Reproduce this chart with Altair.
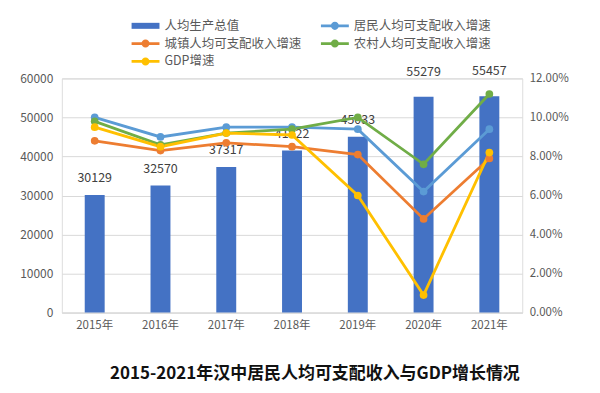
import altair as alt
import pandas as pd

years = ["2015年", "2016年", "2017年", "2018年", "2019年", "2020年", "2021年"]
gdp_pc = [30129, 32570, 37317, 41522, 45033, 55279, 55457]
resident = [10.0, 9.0, 9.5, 9.5, 9.4, 6.2, 9.4]
urban = [8.8, 8.3, 8.7, 8.5, 8.1, 4.8, 7.9]
rural = [9.8, 8.6, 9.2, 9.4, 10.0, 7.6, 11.2]
gdp_growth = [9.5, 8.5, 9.2, 9.1, 6.0, 0.9, 8.2]

series_names = ["人均生产总值", "居民人均可支配收入增速", "城镇人均可支配收入增速",
                "农村人均可支配收入增速", "GDP增速"]
series_colors = ["#4472C4", "#5B9BD5", "#ED7D31", "#70AD47", "#FFC000"]

left_ticks = [0, 10000, 20000, 30000, 40000, 50000, 60000]
right_ticks = [0, 0.02, 0.04, 0.06, 0.08, 0.10, 0.12]

FONT = "Noto Sans CJK SC"

bar_df = pd.DataFrame({"year": years, "value": gdp_pc, "series": series_names[0]})
line_rows = []
for name, vals in zip(series_names[1:], [resident, urban, rural, gdp_growth]):
    for y, v in zip(years, vals):
        line_rows.append({"year": y, "series": name, "rate": v / 100.0,
                          "order": series_names.index(name)})
line_df = pd.DataFrame(line_rows)

color_scale = alt.Scale(domain=series_names, range=series_colors)

bar_shape = "M-2,-0.43H2V0.43H-2Z"
line_shape = ("M-2,-0.2H2V0.2H-2Z"
              "M0.58,0A0.58,0.58,0,1,1,-0.58,0A0.58,0.58,0,1,1,0.58,0Z")
shape_scale = alt.Scale(domain=series_names,
                        range=[bar_shape, line_shape, line_shape, line_shape, line_shape])

legend = alt.Legend(
    title=None, orient="none", legendX=77, legendY=-60, columns=2, direction="horizontal",
    columnPadding=19, rowPadding=4, symbolSize=196, labelOffset=12,
    labelFontSize=12.5, labelColor="#595959", labelFont=FONT,
    symbolOpacity=1, symbolStrokeWidth=0, symbolType=line_shape,
)

x_enc = alt.X("year:N", sort=years, title=None,
              scale=alt.Scale(paddingInner=0, paddingOuter=0),
              axis=alt.Axis(labelAngle=0, labelColor="#595959", labelFontSize=11.5,
                            labelFont=FONT, ticks=False, domainColor="#d9d9d9",
                            labelPadding=7, grid=False))

y_val = alt.Y("value:Q", title=None,
              scale=alt.Scale(domain=[0, 60000]),
              axis=alt.Axis(values=left_ticks, tickCount=len(left_ticks),
                            format="d", labelOverlap=False,
                            grid=True, gridColor="#d9d9d9", domain=False, ticks=False,
                            labelColor="#595959", labelFontSize=12, labelFont=FONT,
                            labelPadding=9))

color_enc = alt.Color("series:N", scale=color_scale, legend=legend)

bars = alt.Chart(bar_df).mark_bar(size=20).encode(
    x=x_enc,
    y=y_val,
    color=color_enc,
)

labels_low = alt.Chart(bar_df).transform_filter(alt.datum.value <= 50000).mark_text(
    baseline="bottom", dy=-10, fontSize=12.5, color="#404040", font=FONT).encode(
    x=x_enc,
    y=y_val,
    text=alt.Text("value:Q", format="d"),
)
labels_high = alt.Chart(bar_df).transform_filter(alt.datum.value > 50000).mark_text(
    baseline="bottom", dy=-18, fontSize=12.5, color="#404040", font=FONT).encode(
    x=x_enc,
    y=y_val,
    text=alt.Text("value:Q", format="d"),
)

left = alt.layer(bars, labels_low, labels_high)

y_rate = alt.Y("rate:Q", title=None,
               scale=alt.Scale(domain=[0, 0.12]),
               axis=alt.Axis(orient="right", values=right_ticks, tickCount=len(right_ticks),
                             labelOverlap=False,
                             format=".2%", grid=False, domain=False, ticks=False,
                             labelColor="#595959", labelFontSize=11.5, labelFont=FONT,
                             labelPadding=7))

lines = alt.Chart(line_df).mark_line(
    strokeWidth=2.8,
    point=alt.OverlayMarkDef(filled=True, size=60),
).encode(
    x=x_enc,
    y=y_rate,
    color=color_enc,
    order=alt.Order("order:Q"),
)

legend_keys = alt.Chart(line_df).mark_point(filled=True, opacity=0).encode(
    x=x_enc,
    y=y_rate,
    color=color_enc,
    shape=alt.Shape("series:N", scale=shape_scale, legend=legend),
)

right = alt.layer(lines, legend_keys)

chart = alt.layer(left, right).resolve_scale(y="independent").properties(
    width=462, height=235,
    autosize=alt.AutoSizeParams(type="none"),
    padding={"left": 54, "top": 70, "right": 70, "bottom": 70},
    title=alt.TitleParams(
        "2015-2021年汉中居民人均可支配收入与GDP增长情况",
        orient="bottom", anchor="middle", fontSize=17, fontWeight="bold",
        font=FONT, color="#111111", offset=35, dx=23,
    ),
).configure_view(stroke=None).configure(background="white")

chart.save("out.html", embed_options={"renderer": "svg", "actions": False})
